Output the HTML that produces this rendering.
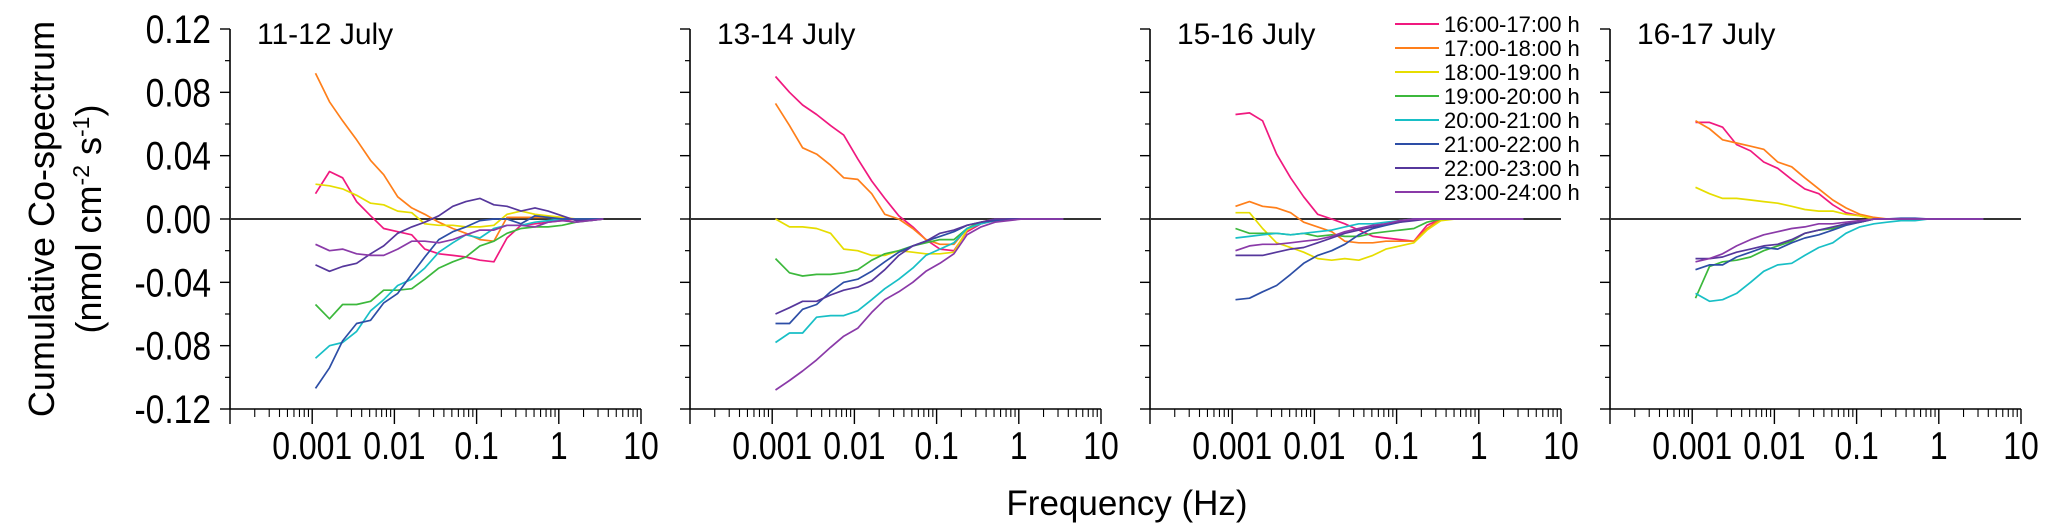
<!DOCTYPE html>
<html><head><meta charset="utf-8"><style>
html,body{margin:0;padding:0;background:#fff;}
svg{display:block;font-family:"Liberation Sans",sans-serif;}
</style></head><body>
<svg id="chart" width="2067" height="532" viewBox="0 0 2067 532">
<text transform="translate(54,219) rotate(-90)" text-anchor="middle" font-size="36">Cumulative Co-spectrum</text>
<text transform="translate(101,219) rotate(-90)" text-anchor="middle" font-size="36">(nmol cm<tspan dy="-12" font-size="23">-2</tspan><tspan dy="12"> s</tspan><tspan dy="-12" font-size="23">-1</tspan><tspan dy="12">)</tspan></text>
<text x="1127" y="515" text-anchor="middle" font-size="35">Frequency (Hz)</text>
<g id="panels"></g>
<g id="legend"></g>
</svg>
<script>
const seriesNames = ["16:00-17:00 h","17:00-18:00 h","18:00-19:00 h","19:00-20:00 h","20:00-21:00 h","21:00-22:00 h","22:00-23:00 h","23:00-24:00 h"];
const seriesColors = ["#f0197f","#ff7f1a","#e6dd00","#3cb83c","#18bfc6","#2d4ea6","#56379c","#8a3aa8"];
const panelTitles = ["11-12 July","13-14 July","15-16 July","16-17 July"];
const yTicks = [0.12,0.08,0.04,0.00,-0.04,-0.08,-0.12];
const yTickLabels = ["0.12","0.08","0.04","0.00","-0.04","-0.08","-0.12"];
const xTicks = [0.001,0.01,0.1,1,10];
const xTickLabels = ["0.001","0.01","0.1","1","10"];
// log10 frequency of each spectral point
const logFreq = [-2.96,-2.79,-2.63,-2.46,-2.29,-2.13,-1.96,-1.79,-1.63,-1.46,-1.29,-1.13,-0.96,-0.79,-0.63,-0.46,-0.29,-0.13,0.04,0.21,0.37,0.54];

const p1 = [
[0.016,0.030,0.026,0.011,0.002,-0.006,-0.008,-0.010,-0.019,-0.022,-0.023,-0.024,-0.026,-0.027,-0.012,-0.004,-0.003,-0.002,-0.001,0,0,0],
[0.092,0.074,0.062,0.050,0.037,0.028,0.014,0.007,0.003,-0.002,-0.006,-0.009,-0.013,-0.014,0.001,0.001,0.001,0.001,0,0,0,0],
[0.022,0.021,0.019,0.015,0.010,0.009,0.005,0.004,-0.003,-0.004,-0.004,-0.005,-0.005,-0.004,0.003,0.005,0.003,0.002,0.001,0,0,0],
[-0.054,-0.063,-0.054,-0.054,-0.052,-0.045,-0.045,-0.044,-0.038,-0.031,-0.027,-0.024,-0.017,-0.014,-0.009,-0.006,-0.005,-0.005,-0.004,-0.002,-0.001,0],
[-0.088,-0.080,-0.078,-0.071,-0.058,-0.051,-0.042,-0.038,-0.031,-0.021,-0.015,-0.010,-0.012,-0.006,-0.004,-0.004,-0.002,-0.001,0,0,0,0],
[-0.107,-0.094,-0.077,-0.066,-0.064,-0.053,-0.047,-0.035,-0.024,-0.013,-0.008,-0.005,-0.001,0,0,-0.003,0.002,0.001,0,0,0,0],
[-0.029,-0.033,-0.030,-0.028,-0.022,-0.017,-0.009,-0.005,-0.002,0.002,0.008,0.011,0.013,0.009,0.008,0.005,0.007,0.005,0.002,-0.001,-0.001,0],
[-0.016,-0.020,-0.019,-0.022,-0.023,-0.023,-0.019,-0.014,-0.014,-0.015,-0.013,-0.010,-0.007,-0.007,-0.004,-0.004,-0.005,-0.002,-0.001,-0.002,-0.001,0]
];
const p2 = [
[0.090,0.080,0.072,0.066,0.059,0.053,0.038,0.024,0.013,0.002,-0.005,-0.013,-0.019,-0.020,-0.008,-0.003,-0.001,0,0,0,0,0],
[0.073,0.059,0.045,0.041,0.034,0.026,0.025,0.016,0.003,0.000,-0.006,-0.013,-0.016,-0.016,-0.006,-0.002,0,0,0,0,0,0],
[0.000,-0.005,-0.005,-0.006,-0.009,-0.019,-0.020,-0.023,-0.023,-0.020,-0.021,-0.022,-0.022,-0.021,-0.007,-0.002,-0.001,0,0,0,0,0],
[-0.025,-0.034,-0.036,-0.035,-0.035,-0.034,-0.032,-0.026,-0.022,-0.020,-0.017,-0.015,-0.013,-0.013,-0.006,-0.002,-0.001,0,0,0,0,0],
[-0.078,-0.072,-0.072,-0.062,-0.061,-0.061,-0.058,-0.051,-0.044,-0.038,-0.031,-0.023,-0.019,-0.015,-0.006,-0.003,-0.001,0,0,0,0,0],
[-0.066,-0.066,-0.057,-0.054,-0.046,-0.040,-0.038,-0.033,-0.027,-0.021,-0.017,-0.014,-0.011,-0.008,-0.004,-0.002,-0.001,0,0,0,0,0],
[-0.060,-0.056,-0.052,-0.052,-0.048,-0.045,-0.043,-0.039,-0.032,-0.023,-0.017,-0.014,-0.009,-0.007,-0.004,-0.002,0,0,0,0,0,0],
[-0.108,-0.102,-0.096,-0.089,-0.081,-0.074,-0.069,-0.059,-0.051,-0.046,-0.040,-0.033,-0.028,-0.022,-0.010,-0.005,-0.002,-0.001,0,0,0,0]
];
const p3 = [
[0.066,0.067,0.062,0.041,0.026,0.014,0.003,0,-0.003,-0.007,-0.011,-0.012,-0.013,-0.014,-0.004,0,0,0,0,0,0,0],
[0.008,0.011,0.008,0.007,0.004,-0.002,-0.005,-0.008,-0.014,-0.015,-0.015,-0.014,-0.014,-0.014,-0.006,0,0,0,0,0,0,0],
[0.004,0.004,-0.006,-0.015,-0.018,-0.021,-0.025,-0.026,-0.025,-0.026,-0.023,-0.019,-0.017,-0.015,-0.007,-0.001,0,0,0,0,0,0],
[-0.006,-0.009,-0.009,-0.009,-0.010,-0.009,-0.011,-0.010,-0.011,-0.011,-0.009,-0.008,-0.007,-0.006,-0.002,0,0,0,0,0,0,0],
[-0.012,-0.011,-0.010,-0.009,-0.010,-0.009,-0.008,-0.007,-0.005,-0.003,-0.003,-0.002,-0.001,0,0,0,0,0,0,0,0,0],
[-0.051,-0.050,-0.046,-0.042,-0.035,-0.028,-0.023,-0.020,-0.016,-0.010,-0.006,-0.004,-0.002,0,0,0,0,0,0,0,0,0],
[-0.023,-0.023,-0.023,-0.021,-0.019,-0.018,-0.015,-0.012,-0.009,-0.007,-0.005,-0.003,-0.002,-0.001,0,0,0,0,0,0,0,0],
[-0.020,-0.017,-0.016,-0.016,-0.015,-0.014,-0.013,-0.011,-0.008,-0.006,-0.004,-0.003,-0.001,0,0,0,0,0,0,0,0,0]
];
const p4 = [
[0.061,0.061,0.058,0.047,0.043,0.036,0.032,0.025,0.019,0.016,0.009,0.004,0.002,0,0,0,0,0,0,0,0,0],
[0.062,0.057,0.050,0.048,0.046,0.044,0.036,0.033,0.026,0.019,0.012,0.007,0.003,0.001,0,0,0,0,0,0,0,0],
[0.020,0.016,0.013,0.013,0.012,0.011,0.010,0.008,0.006,0.005,0.005,0.003,0.002,0,0,0,0,0,0,0,0,0],
[-0.050,-0.030,-0.027,-0.026,-0.024,-0.020,-0.017,-0.014,-0.009,-0.007,-0.006,-0.003,-0.002,0,0,0,0,0,0,0,0,0],
[-0.047,-0.052,-0.051,-0.047,-0.040,-0.033,-0.029,-0.028,-0.023,-0.018,-0.015,-0.009,-0.005,-0.003,-0.002,-0.001,-0.001,0,0,0,0,0],
[-0.032,-0.029,-0.029,-0.024,-0.021,-0.018,-0.019,-0.015,-0.012,-0.010,-0.007,-0.004,-0.002,0,0,0.0005,0.0005,0,0,0,0,0],
[-0.025,-0.025,-0.024,-0.021,-0.019,-0.017,-0.016,-0.013,-0.009,-0.007,-0.005,-0.003,-0.002,0,0,0,0,0,0,0,0,0],
[-0.027,-0.025,-0.022,-0.017,-0.013,-0.010,-0.008,-0.006,-0.005,-0.003,-0.003,-0.002,-0.001,0,0,0,0,0,0,0,0,0]
];
const panelData = [p1,p2,p3,p4];

const NS = "http://www.w3.org/2000/svg";
const panelLeft = [230,690,1150,1610];
const panelW = 411, yTop = 29, yBot = 409;
function xScale(p, lf){ return panelLeft[p] + (lf + 4) / 5 * panelW; }
function yScale(v){ return yTop + (0.12 - v) / 0.24 * (yBot - yTop); }
function mk(tag, attrs, parent){ const e=document.createElementNS(NS,tag); for(const k in attrs) e.setAttribute(k,attrs[k]); parent.appendChild(e); return e; }

const panelsG = document.getElementById("panels");
panelData.forEach((data, p) => {
  const g = mk("g", {}, panelsG);
  
  
  const L = panelLeft[p], R = L + panelW;
  const ya = mk("line", {x1:L,y1:yTop,x2:L,y2:yBot,stroke:"#000","stroke-width":1.6}, g);
  
  
  const xa = mk("line", {x1:L,y1:yBot,x2:R,y2:yBot,stroke:"#000","stroke-width":1.6}, g);
  
  
  yTicks.forEach((t,i) => {
    const y = yScale(t);
    mk("line", {x1:L-10,y1:y,x2:L,y2:y,stroke:"#000","stroke-width":1.4}, g);
    if (i < yTicks.length-1) { const ym = yScale(t-0.02); mk("line", {x1:L-5,y1:ym,x2:L,y2:ym,stroke:"#000","stroke-width":1.2}, g); }
    if (p === 0) {
      const tl = mk("text", {transform:"translate(" + (L-19) + "," + (y+14) + ") scale(0.84,1)","text-anchor":"end","font-size":40}, g);
      tl.textContent = yTickLabels[i];
      
      
    }
  });
  for (let d = -4; d <= 1; d++) {
    const x = xScale(p, d);
    mk("line", {x1:x,y1:yBot,x2:x,y2:yBot+15,stroke:"#000","stroke-width":1.4}, g);
    if (d < 1) for (let m = 2; m <= 9; m++) { const xm = xScale(p, d + Math.log10(m)); mk("line", {x1:xm,y1:yBot,x2:xm,y2:yBot+8,stroke:"#000","stroke-width":1.1}, g); }
  }
  xTicks.forEach((t,i) => {
    const tl = mk("text", {transform:"translate(" + xScale(p, Math.log10(t)).toFixed(1) + ",459) scale(0.82,1)","text-anchor":"middle","font-size":39}, g);
    tl.textContent = xTickLabels[i];
    
    
  });
  const zl = mk("line", {x1:L,y1:yScale(0),x2:R,y2:yScale(0),stroke:"#333","stroke-width":2}, g);
  
  
  const tt = mk("text", {x:L+27,y:44,"font-size":30}, g);
  tt.textContent = panelTitles[p];
  
  
  data.forEach((vals, s) => {
    const pts = vals.map((v,i) => xScale(p, logFreq[i]).toFixed(1) + "," + yScale(v).toFixed(1)).join(" ");
    const pl = mk("polyline", {points:pts,fill:"none",stroke:seriesColors[s],"stroke-width":1.7,"stroke-linejoin":"round"}, g);
    
    
  });
});

const lg = document.getElementById("legend");


seriesNames.forEach((n,i) => {
  const y = 24 + i*24;
  const e = mk("g", {}, lg);
  
  
  mk("line", {x1:1395,y1:y,x2:1439,y2:y,stroke:seriesColors[i],"stroke-width":2}, e);
  const t = mk("text", {x:1444,y:y+8,"font-size":22}, e);
  t.textContent = n;
});
</script>
</body></html>
